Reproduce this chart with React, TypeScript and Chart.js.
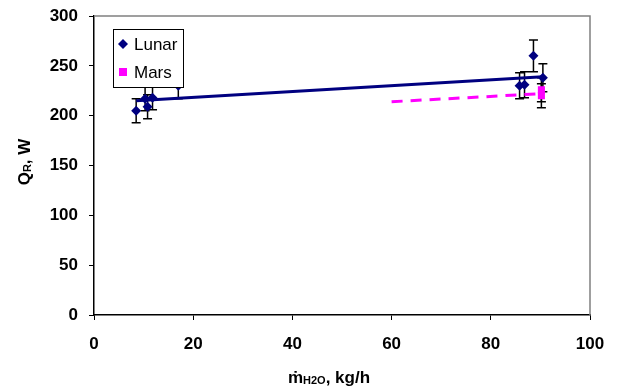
import React, { useEffect, useRef } from "react";
import { Chart, registerables } from "chart.js";
Chart.register(...registerables);

// Lunar measurements
const lunarX = [8.5, 10.3, 10.8, 11.8, 17, 85.8, 86.8, 88.6, 90.5];
const lunarY = [205, 217, 209, 218, 230, 230, 231, 260, 238];
const lunarErr = [12, 12, 12, 12, 13, 13, 13, 16, 14];
// Mars measurements
const marsX = [90.2, 90.2];
const marsY = [226, 220];
const marsErr = [12, 12];
// Linear trend lines
const lunarFitX = [8.5, 90.5];
const lunarFitY = [215, 239];
const marsFitX = [60, 90];
const marsFitY = [214, 222];

const xTicks = [0, 20, 40, 60, 80, 100];
const yTicks = [0, 50, 100, 150, 200, 250, 300];

const NAVY = "#000080";
const MAGENTA = "#FF00FF";
const FONT = "'Liberation Sans', Arial, sans-serif";

const errorBarPlugin = {
  id: "errorBars",
  beforeDatasetsDraw(chart: any) {
    const ctx = chart.ctx;
    const xs = chart.scales.x;
    const ys = chart.scales.y;
    ctx.save();
    ctx.strokeStyle = "#000";
    ctx.lineWidth = 1.5;
    const draw = (X: number[], Y: number[], E: number[]) => {
      X.forEach((xv, i) => {
        const px = xs.getPixelForValue(xv);
        const top = ys.getPixelForValue(Y[i] + E[i]);
        const bot = ys.getPixelForValue(Y[i] - E[i]);
        ctx.beginPath();
        ctx.moveTo(px, top);
        ctx.lineTo(px, bot);
        ctx.moveTo(px - 4.5, top);
        ctx.lineTo(px + 4.5, top);
        ctx.moveTo(px - 4.5, bot);
        ctx.lineTo(px + 4.5, bot);
        ctx.stroke();
      });
    };
    draw(lunarX, lunarY, lunarErr);
    draw(marsX, marsY, marsErr);
    ctx.restore();
  },
};

const framePlugin = {
  id: "frameAndTitles",
  afterDraw(chart: any) {
    const ctx = chart.ctx;
    const a = chart.chartArea;
    ctx.save();
    // gray top/right border
    ctx.strokeStyle = "#808080";
    ctx.lineWidth = 1.5;
    ctx.beginPath();
    ctx.moveTo(a.left, a.top);
    ctx.lineTo(a.right, a.top);
    ctx.lineTo(a.right, a.bottom);
    ctx.stroke();

    // Legend box
    const lx = 113, ly = 29, lw = 70, lh = 58;
    ctx.fillStyle = "#fff";
    ctx.fillRect(lx, ly, lw, lh);
    ctx.strokeStyle = "#000";
    ctx.lineWidth = 1;
    ctx.strokeRect(lx + 0.5, ly + 0.5, lw, lh);
    // Lunar marker
    ctx.fillStyle = NAVY;
    ctx.beginPath();
    const cx = 123, cy = 44, r = 5;
    ctx.moveTo(cx, cy - r);
    ctx.lineTo(cx + r, cy);
    ctx.lineTo(cx, cy + r);
    ctx.lineTo(cx - r, cy);
    ctx.closePath();
    ctx.fill();
    ctx.fillStyle = MAGENTA;
    ctx.fillRect(119, 68, 8, 8);
    ctx.fillStyle = "#000";
    ctx.font = `17px ${FONT}`;
    ctx.textBaseline = "middle";
    ctx.textAlign = "left";
    ctx.fillText(chart.data.datasets[0].label, 134, 45);
    ctx.fillText(chart.data.datasets[1].label, 134, 73);

    // X title: m-dot with subscript H2O, kg/h
    ctx.textBaseline = "alphabetic";
    const big = `bold 17px ${FONT}`;
    const small = `bold 11px ${FONT}`;
    const drawParts = (ps: any[], centerX: number, baseY: number) => {
      let total = 0;
      ps.forEach((p) => {
        ctx.font = p.f;
        total += ctx.measureText(p.t).width;
      });
      let x = centerX - total / 2;
      ps.forEach((p) => {
        ctx.font = p.f;
        ctx.fillText(p.t, x, baseY + p.dy);
        x += ctx.measureText(p.t).width;
      });
    };
    drawParts(
      [
        { t: "\u1E41", f: big, dy: 0 },
        { t: "H2O", f: small, dy: 1 },
        { t: ", kg/h", f: big, dy: 0 },
      ],
      329,
      383
    );

    // Y title rotated
    ctx.save();
    ctx.translate(30, 162);
    ctx.rotate(-Math.PI / 2);
    drawParts(
      [
        { t: "Q", f: big, dy: 0 },
        { t: "R", f: small, dy: 1 },
        { t: ", W", f: big, dy: 0 },
      ],
      0,
      0
    );
    ctx.restore();
    ctx.restore();
  },
};

export default function App() {
  const ref = useRef<HTMLCanvasElement>(null);
  useEffect(() => {
    document.body.style.margin = "0";
    const chart = new Chart(ref.current!, {
      type: "scatter",
      data: {
        datasets: [
          {
            label: "Lunar",
            data: lunarX.map((x, i) => ({ x, y: lunarY[i] })),
            pointStyle: "rectRot",
            pointRadius: 5,
            backgroundColor: NAVY,
            borderColor: NAVY,
            borderWidth: 0,
            order: 1,
          },
          {
            label: "Mars",
            data: marsX.map((x, i) => ({ x, y: marsY[i] })),
            pointStyle: "rect",
            pointRadius: 5,
            backgroundColor: MAGENTA,
            borderColor: MAGENTA,
            borderWidth: 0,
            order: 0,
          },
          {
            label: "Lunar fit",
            data: lunarFitX.map((x, i) => ({ x, y: lunarFitY[i] })),
            showLine: true,
            pointRadius: 0,
            borderColor: NAVY,
            borderWidth: 3,
            order: 2,
          },
          {
            label: "Mars fit",
            data: marsFitX.map((x, i) => ({ x, y: marsFitY[i] })),
            showLine: true,
            pointRadius: 0,
            borderColor: MAGENTA,
            borderWidth: 3,
            borderDash: [11, 8],
            order: 2,
          },
        ],
      },
      options: {
        animation: false,
        responsive: false,
        layout: { padding: { left: 0, top: 16, right: 32, bottom: 0 } },
        plugins: { legend: { display: false }, tooltip: { enabled: false } },
        scales: {
          x: {
            type: "linear",
            min: 0,
            max: 100,
            afterBuildTicks: (s: any) => {
              s.ticks = xTicks.map((v) => ({ value: v }));
            },
            afterFit: (s: any) => {
              s.height = 73;
              s.paddingLeft = 0;
              s.paddingRight = 0;
            },
            ticks: {
              color: "#000",
              font: { family: FONT, size: 17, weight: "bold" },
              padding: 14,
            },
            grid: {
              drawOnChartArea: false,
              drawTicks: true,
              tickLength: 5,
              color: "#000",
            },
            border: { color: "#000", width: 1.5 },
          },
          y: {
            type: "linear",
            min: 0,
            max: 300,
            afterBuildTicks: (s: any) => {
              s.ticks = yTicks.map((v) => ({ value: v }));
            },
            afterFit: (s: any) => {
              s.width = 94;
              s.paddingTop = 0;
              s.paddingBottom = 0;
            },
            ticks: {
              color: "#000",
              font: { family: FONT, size: 17, weight: "bold" },
              padding: 11,
            },
            grid: {
              drawOnChartArea: false,
              drawTicks: true,
              tickLength: 5,
              color: "#000",
            },
            border: { color: "#000", width: 1.5 },
          },
        },
      },
      plugins: [errorBarPlugin, framePlugin],
    });
    return () => chart.destroy();
  }, []);
  return (
    <div style={{ width: 622, height: 388 }}>
      <canvas ref={ref} width={622} height={388} style={{ display: "block" }} />
    </div>
  );
}
